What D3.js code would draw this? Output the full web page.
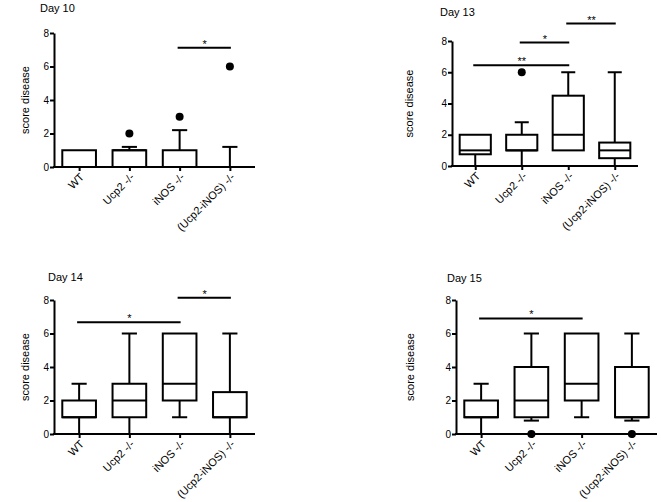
<!DOCTYPE html>
<html>
<head>
<meta charset="utf-8">
<script src="https://cdn.jsdelivr.net/npm/d3@7"></script>
<style>
  body { margin: 0; background: #fff; }
  svg { display: block; font-family: "Liberation Sans", Arial, sans-serif; }
</style>
</head>
<body>
<svg id="chart" width="661" height="502"></svg>
<script>
// ---- data ----
const categories = ["WT", "Ucp2 -/-", "iNOS -/-", "(Ucp2-iNOS) -/-"];
const yTicks = [0, 2, 4, 6, 8];
const panelTitles = ["Day 10", "Day 13", "Day 14", "Day 15"];
const yLabel = "score disease";

// box stats per category: [lower whisker, q1, median, q3, upper whisker]
const day10Stats = [[0, 0, 0, 1, 1], [0, 0, 1, 1, 1.2], [0, 0, 0, 1, 2.2], [0, 0, 0, 0, 1.2]];
const day13Stats = [[0, 0.75, 1, 2, 2], [0, 1, 1, 2, 2.8], [1, 1, 2, 4.5, 6], [0, 0.5, 1, 1.5, 6]];
const day14Stats = [[0, 1, 1, 2, 3], [0, 1, 2, 3, 6], [1, 2, 3, 6, 6], [0, 1, 1, 2.5, 6]];
const day15Stats = [[0, 1, 1, 2, 3], [0.8, 1, 2, 4, 6], [1, 2, 3, 6, 6], [0.8, 1, 1, 4, 6]];

// outliers: [category index, value]
const day10Outliers = [[1, 2], [2, 3], [3, 6]];
const day13Outliers = [[1, 6]];
const day14Outliers = [];
const day15Outliers = [[1, 0], [3, 0]];

// significance bars: [from index, to index, level (score units), label]
const day10Sig = [[2, 3, 7.12, "*"]];
const day13Sig = [[0, 2, 6.45, "**"], [1, 2, 7.9, "*"], [2, 3, 9.12, "**"]];
const day14Sig = [[0, 2, 6.67, "*"], [2, 3, 8.14, "*"]];
const day15Sig = [[0, 2, 6.9, "*"]];

// ---- layout (positions only) ----
const panels = [
  { title: panelTitles[0], stats: day10Stats, out: day10Outliers, sig: day10Sig,
    x0: 54, x1: 255, yTop: 33, y0: 167, titleX: 40, titleY: 12, labX: 25 },
  { title: panelTitles[1], stats: day13Stats, out: day13Outliers, sig: day13Sig,
    x0: 452, x1: 638, yTop: 41, y0: 166, titleX: 440, titleY: 16, labX: 409 },
  { title: panelTitles[2], stats: day14Stats, out: day14Outliers, sig: day14Sig,
    x0: 54, x1: 255, yTop: 300, y0: 434, titleX: 48, titleY: 281, labX: 25 },
  { title: panelTitles[3], stats: day15Stats, out: day15Outliers, sig: day15Sig,
    x0: 456, x1: 657, yTop: 300, y0: 434, titleX: 447, titleY: 282, labX: 410 }
];

const svg = d3.select("#chart");

panels.forEach(p => {
  const g = svg.append("g");
  const x = d3.scalePoint().domain(categories).range([p.x0, p.x1]).padding(0.5);
  const y = d3.scaleLinear().domain([0, 8]).range([p.y0, p.yTop]);
  const step = x.step();
  const bw = step * 0.67;
  const cw = bw * 0.45;

  // title
  g.append("text").attr("x", p.titleX).attr("y", p.titleY)
    .attr("font-size", 11).attr("fill", "#000").text(p.title);

  // y label
  g.append("text")
    .attr("transform", `translate(${p.labX},${(p.y0 + p.yTop) / 2}) rotate(-90)`)
    .attr("text-anchor", "middle").attr("dy", "0.35em")
    .attr("font-size", 11).attr("fill", "#000").text(yLabel);

  // y axis
  const ya = g.append("g").attr("transform", `translate(${p.x0},0)`)
    .call(d3.axisLeft(y).tickValues(yTicks).tickSize(4).tickPadding(1).tickSizeOuter(0));
  ya.select(".domain").attr("stroke-width", 2).attr("stroke", "#000");
  ya.selectAll(".tick line").attr("stroke-width", 2).attr("stroke", "#000");
  ya.selectAll(".tick text").attr("font-size", 10).attr("fill", "#000")
    .attr("font-family", "Liberation Sans, Arial, sans-serif");

  // x axis
  const xa = g.append("g").attr("transform", `translate(0,${p.y0})`)
    .call(d3.axisBottom(x).tickSize(4).tickSizeOuter(0).tickFormat(""));
  xa.select(".domain").attr("stroke-width", 2).attr("stroke", "#000")
    .attr("d", `M${p.x0 - 1},0H${p.x1}`);
  xa.selectAll(".tick line").attr("stroke-width", 2).attr("stroke", "#000");

  // category labels
  g.selectAll(".cat").data(categories).enter().append("text")
    .attr("transform", d => `translate(${x(d) + 3},${p.y0 + 8}) rotate(-45)`)
    .attr("text-anchor", "end").attr("dy", "0.35em")
    .attr("font-size", 11).attr("fill", "#000").text(d => d);

  // boxes
  const bx = g.selectAll(".box").data(p.stats).enter().append("g");
  bx.each(function (s, i) {
    const c = x(categories[i]);
    const sel = d3.select(this);
    const line = (x1, y1, x2, y2) => sel.append("line")
      .attr("x1", x1).attr("y1", y1).attr("x2", x2).attr("y2", y2)
      .attr("stroke", "#000").attr("stroke-width", 2);
    // whiskers
    if (s[0] < s[1]) { line(c, y(s[0]), c, y(s[1])); if (s[0] > 0) line(c - cw / 2, y(s[0]), c + cw / 2, y(s[0])); }
    if (s[4] > s[3]) { line(c, y(s[3]), c, y(s[4])); line(c - cw / 2, y(s[4]), c + cw / 2, y(s[4])); }
    // box
    if (s[3] > s[1]) {
      sel.append("rect").attr("x", c - bw / 2).attr("y", y(s[3]))
        .attr("width", bw).attr("height", y(s[1]) - y(s[3]))
        .attr("fill", "#fff").attr("stroke", "#000").attr("stroke-width", 2);
      line(c - bw / 2, y(s[2]), c + bw / 2, y(s[2]));
    }
  });

  // outliers
  g.selectAll(".out").data(p.out).enter().append("circle")
    .attr("cx", d => x(categories[d[0]])).attr("cy", d => y(d[1]))
    .attr("r", 4).attr("fill", "#000");

  // significance bars
  p.sig.forEach(s => {
    const a = x(categories[s[0]]), b = x(categories[s[1]]);
    g.append("line").attr("x1", a - 2).attr("x2", b + 1)
      .attr("y1", y(s[2])).attr("y2", y(s[2]))
      .attr("stroke", "#000").attr("stroke-width", 2);
    g.append("text").attr("x", (a + b) / 2).attr("y", y(s[2]))
      .attr("text-anchor", "middle").attr("font-size", 11).attr("fill", "#000").text(s[3]);
  });
});
</script>
</body>
</html>
